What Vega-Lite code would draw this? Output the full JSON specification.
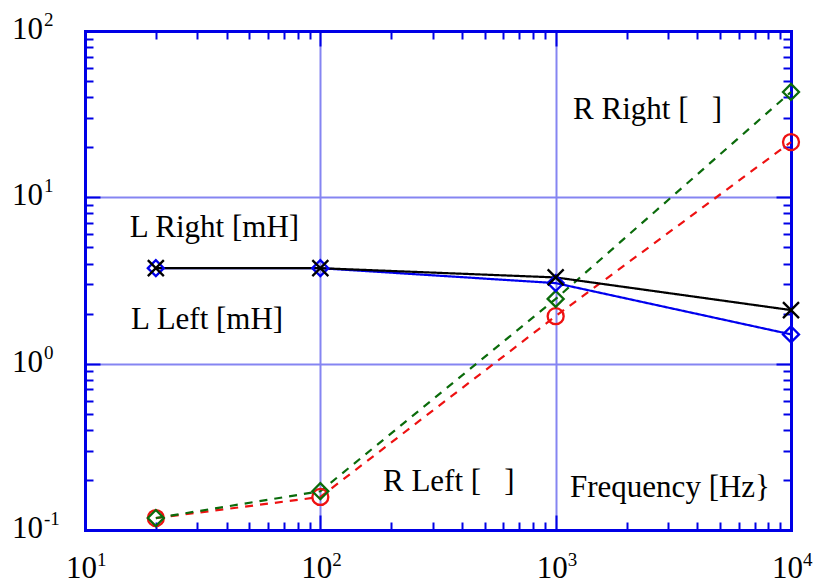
{
  "$schema": "https://vega.github.io/schema/vega-lite/v6.json",
  "width": 706,
  "height": 499,
  "autosize": {"type": "none"},
  "padding": {"left": 85, "top": 31, "right": 25, "bottom": 54},
  "background": "white",
  "config": {
    "view": {"stroke": null},
    "font": "Liberation Serif",
    "axis": {
      "labels": false,
      "title": null,
      "domainColor": "#0000e6",
      "domainWidth": 3,
      "domainCap": "square",
      "tickColor": "#0000e6",
      "tickWidth": 2,
      "gridColor": "#8585f2",
      "gridWidth": 2
    }
  },
  "datasets": {
    "curves": [
      {"f": 20, "v": 0.118, "s": "R Left"},
      {"f": 100, "v": 0.158, "s": "R Left"},
      {"f": 1000, "v": 1.93, "s": "R Left"},
      {"f": 10000, "v": 21.5, "s": "R Left"},
      {"f": 20, "v": 0.118, "s": "R Right"},
      {"f": 100, "v": 0.171, "s": "R Right"},
      {"f": 1000, "v": 2.45, "s": "R Right"},
      {"f": 10000, "v": 43, "s": "R Right"},
      {"f": 20, "v": 3.75, "s": "L Left"},
      {"f": 100, "v": 3.75, "s": "L Left"},
      {"f": 1000, "v": 3.05, "s": "L Left"},
      {"f": 10000, "v": 1.5, "s": "L Left"},
      {"f": 20, "v": 3.75, "s": "L Right"},
      {"f": 100, "v": 3.75, "s": "L Right"},
      {"f": 1000, "v": 3.3, "s": "L Right"},
      {"f": 10000, "v": 2.1, "s": "L Right"}
    ],
    "notes": [
      {"f": 15.5, "v": 6.54, "t": "L Right [mH]"},
      {"f": 15.7, "v": 1.83, "t": "L Left [mH]"},
      {"f": 1186, "v": 33.5, "t": "R Right [\u00a0\u00a0\u00a0]"},
      {"f": 184.6, "v": 0.194, "t": "R Left [\u00a0\u00a0\u00a0]"},
      {"f": 1151, "v": 0.179, "t": "Frequency [Hz}"}
    ],
    "xlabels": [
      {"v": 10, "e": "1"},
      {"v": 100, "e": "2"},
      {"v": 1000, "e": "3"},
      {"v": 10000, "e": "4"}
    ],
    "ylabels": [
      {"v": 0.1, "e": "-1"},
      {"v": 1, "e": "0"},
      {"v": 10, "e": "1"},
      {"v": 100, "e": "2"}
    ]
  },
  "resolve": {"axis": {"x": "independent", "y": "independent"}},
  "layer": [
    {
      "data": {"name": "curves"},
      "mark": {"type": "line", "strokeWidth": 2.2},
      "encoding": {
        "x": {
          "field": "f",
          "type": "quantitative",
          "scale": {"type": "log", "domain": [10, 10000], "nice": false},
          "axis": {
            "orient": "bottom",
            "grid": true,
            "values": [10, 20, 30, 40, 50, 60, 70, 80, 90, 100, 200, 300, 400, 500, 600, 700, 800, 900, 1000, 2000, 3000, 4000, 5000, 6000, 7000, 8000, 9000, 10000],
            "tickSize": {"condition": {"test": "abs(log(datum.value)/LN10 - round(log(datum.value)/LN10)) < 0.001", "value": -15}, "value": -8},
            "gridOpacity": {"condition": {"test": "abs(log(datum.value)/LN10 - round(log(datum.value)/LN10)) < 0.001", "value": 1}, "value": 0}
          }
        },
        "y": {
          "field": "v",
          "type": "quantitative",
          "scale": {"type": "log", "domain": [0.1, 100], "nice": false},
          "axis": {
            "orient": "left",
            "grid": true,
            "values": [0.1, 0.2, 0.3, 0.4, 0.5, 0.6, 0.7, 0.8, 0.9, 1, 2, 3, 4, 5, 6, 7, 8, 9, 10, 20, 30, 40, 50, 60, 70, 80, 90, 100],
            "tickSize": {"condition": {"test": "abs(log(datum.value)/LN10 - round(log(datum.value)/LN10)) < 0.001", "value": -15}, "value": -8},
            "gridOpacity": {"condition": {"test": "abs(log(datum.value)/LN10 - round(log(datum.value)/LN10)) < 0.001", "value": 1}, "value": 0}
          }
        },
        "color": {
          "field": "s",
          "type": "nominal",
          "scale": {"domain": ["R Left", "R Right", "L Left", "L Right"], "range": ["#ee1111", "#0b6b0b", "#0000ee", "#000000"]},
          "legend": null
        },
        "strokeDash": {
          "field": "s",
          "type": "nominal",
          "scale": {"domain": ["R Left", "R Right", "L Left", "L Right"], "range": [[8, 7], [8, 7], [1, 0], [1, 0]]},
          "legend": null
        }
      }
    },
    {
      "data": {"name": "curves"},
      "mark": {"type": "point", "filled": false, "strokeWidth": 2.3, "size": 256, "opacity": 1},
      "encoding": {
        "x": {
          "field": "f",
          "type": "quantitative",
          "scale": {"type": "log", "domain": [10, 10000], "nice": false},
          "axis": {
            "orient": "top",
            "grid": false,
            "values": [10, 20, 30, 40, 50, 60, 70, 80, 90, 100, 200, 300, 400, 500, 600, 700, 800, 900, 1000, 2000, 3000, 4000, 5000, 6000, 7000, 8000, 9000, 10000],
            "tickSize": {"condition": {"test": "abs(log(datum.value)/LN10 - round(log(datum.value)/LN10)) < 0.001", "value": -15}, "value": -8}
          }
        },
        "y": {
          "field": "v",
          "type": "quantitative",
          "scale": {"type": "log", "domain": [0.1, 100], "nice": false},
          "axis": {
            "orient": "right",
            "grid": false,
            "values": [0.1, 0.2, 0.3, 0.4, 0.5, 0.6, 0.7, 0.8, 0.9, 1, 2, 3, 4, 5, 6, 7, 8, 9, 10, 20, 30, 40, 50, 60, 70, 80, 90, 100],
            "tickSize": {"condition": {"test": "abs(log(datum.value)/LN10 - round(log(datum.value)/LN10)) < 0.001", "value": -15}, "value": -8}
          }
        },
        "color": {
          "field": "s",
          "type": "nominal",
          "scale": {"domain": ["R Left", "R Right", "L Left", "L Right"], "range": ["#ee1111", "#0b6b0b", "#0000ee", "#000000"]},
          "legend": null
        },
        "shape": {
          "field": "s",
          "type": "nominal",
          "scale": {"domain": ["R Left", "R Right", "L Left", "L Right"], "range": ["circle", "diamond", "diamond", "M-1,-1L1,1M-1,1L1,-1"]},
          "legend": null
        }
      }
    },
    {
      "data": {"name": "notes"},
      "mark": {"type": "text", "align": "left", "baseline": "middle", "fontSize": 31, "font": "Liberation Serif", "color": "#000000"},
      "encoding": {
        "x": {"field": "f", "type": "quantitative", "scale": {"type": "log", "domain": [10, 10000], "nice": false}, "axis": null},
        "y": {"field": "v", "type": "quantitative", "scale": {"type": "log", "domain": [0.1, 100], "nice": false}, "axis": null},
        "text": {"field": "t"}
      }
    },
    {
      "data": {"name": "xlabels"},
      "mark": {"type": "text", "align": "right", "baseline": "alphabetic", "fontSize": 31, "font": "Liberation Serif", "color": "#000000", "dx": 12, "dy": 48},
      "encoding": {
        "x": {"field": "v", "type": "quantitative", "scale": {"type": "log", "domain": [10, 10000], "nice": false}, "axis": null},
        "y": {"datum": 0.1, "type": "quantitative", "scale": {"type": "log", "domain": [0.1, 100], "nice": false}, "axis": null},
        "text": {"value": "10"}
      }
    },
    {
      "data": {"name": "xlabels"},
      "mark": {"type": "text", "align": "left", "baseline": "alphabetic", "fontSize": 19, "font": "Liberation Serif", "color": "#000000", "dx": 12, "dy": 36},
      "encoding": {
        "x": {"field": "v", "type": "quantitative", "scale": {"type": "log", "domain": [10, 10000], "nice": false}, "axis": null},
        "y": {"datum": 0.1, "type": "quantitative", "scale": {"type": "log", "domain": [0.1, 100], "nice": false}, "axis": null},
        "text": {"field": "e"}
      }
    },
    {
      "data": {"name": "ylabels"},
      "mark": {"type": "text", "align": "right", "baseline": "alphabetic", "fontSize": 31, "font": "Liberation Serif", "color": "#000000", "dx": -42, "dy": 8},
      "encoding": {
        "x": {"datum": 10, "type": "quantitative", "scale": {"type": "log", "domain": [10, 10000], "nice": false}, "axis": null},
        "y": {"field": "v", "type": "quantitative", "scale": {"type": "log", "domain": [0.1, 100], "nice": false}, "axis": null},
        "text": {"value": "10"}
      }
    },
    {
      "data": {"name": "ylabels"},
      "mark": {"type": "text", "align": "left", "baseline": "alphabetic", "fontSize": 19, "font": "Liberation Serif", "color": "#000000", "dx": -41, "dy": -5},
      "encoding": {
        "x": {"datum": 10, "type": "quantitative", "scale": {"type": "log", "domain": [10, 10000], "nice": false}, "axis": null},
        "y": {"field": "v", "type": "quantitative", "scale": {"type": "log", "domain": [0.1, 100], "nice": false}, "axis": null},
        "text": {"field": "e"}
      }
    }
  ]
}
